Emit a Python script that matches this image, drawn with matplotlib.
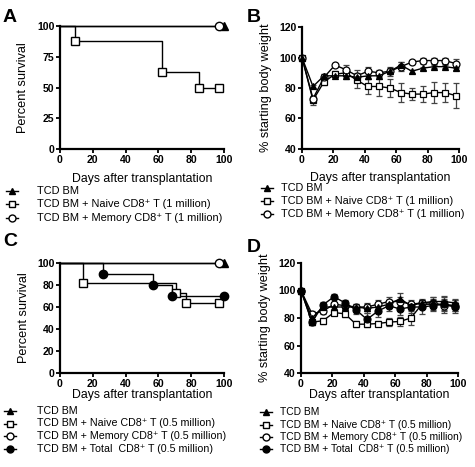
import matplotlib
matplotlib.use('Agg')
import matplotlib.pyplot as plt
from matplotlib.lines import Line2D

plt.rcParams['font.family'] = ['Liberation Sans', 'DejaVu Sans']

# ---- A: survival, 1 million ----
a_tcd_t = [0, 100]
a_tcd_v = [100, 100]
a_naive_t = [0, 9, 62, 85, 97]
a_naive_v = [100, 87.5, 62.5, 50, 50]
a_mem_t = [0, 97]
a_mem_v = [100, 100]

# ---- B: body weight, 1 million ----
days = [0, 7, 14, 21, 28, 35, 42, 49, 56, 63, 70, 77, 84, 91, 98]
b_tcd = [100, 81, 88, 88, 88, 87, 88, 88, 91, 95, 91, 93, 94, 94, 93]
b_tcd_err = [0, 1, 1, 1, 2, 2, 2, 2, 2, 2, 1, 1, 1, 1, 1]
b_naive = [100, 72, 84, 89, 90, 85, 81, 81, 80, 77, 76, 76, 77, 77, 75]
b_naive_err = [0, 3, 2, 2, 3, 5, 5, 6, 6, 6, 4, 5, 7, 6, 8]
b_mem = [100, 73, 87, 95, 92, 88, 91, 90, 91, 94, 97, 98, 98, 98, 96]
b_mem_err = [0, 2, 2, 1, 3, 4, 3, 2, 3, 3, 1, 2, 2, 2, 3]

# ---- C: survival, 0.5 million ----
c_tcd_t = [0, 100]
c_tcd_v = [100, 100]
c_naive_t = [0, 14, 71, 77, 97]
c_naive_v = [100, 81.8, 72.7, 63.6, 63.6]
c_mem_t = [0, 97]
c_mem_v = [100, 100]
c_total_t = [0, 26, 57, 68, 100]
c_total_v = [100, 90, 80, 70, 70]

# ---- D: body weight, 0.5 million ----
d_tcd = [100, 80, 88, 88, 88, 88, 87, 88, 90, 94, 89, 91, 92, 92, 91]
d_tcd_err = [0, 2, 2, 2, 2, 2, 3, 2, 3, 4, 3, 2, 3, 3, 3]
d_naive = [100, 77, 78, 84, 83, 75.5, 75.5, 76, 77, 77.5, 80, 90, 90, 90, 89]
d_naive_err = [0, 2, 2, 2, 2, 2, 2, 2, 3, 3, 5, 3, 4, 4, 4]
d_mem = [100, 83, 85, 90, 89, 88, 88, 90, 92, 92, 90, 91, 91, 89, 89]
d_mem_err = [0, 2, 2, 2, 2, 2, 3, 3, 3, 3, 3, 3, 4, 4, 4]
d_total = [100, 77, 89.5, 95.5, 91, 86, 79, 85, 89, 86.5, 88, 88, 89, 90, 88]
d_total_err = [0, 2, 2, 2, 2, 3, 5, 4, 4, 4, 4, 5, 4, 6, 4]

cd8 = 'CD8\u207a'
leg_a = ['TCD BM', 'TCD BM + Naive %s T (1 million)' % cd8,
         'TCD BM + Memory %s T (1 million)' % cd8]
leg_c = ['TCD BM', 'TCD BM + Naive %s T (0.5 million)' % cd8,
         'TCD BM + Memory %s T (0.5 million)' % cd8,
         'TCD BM + Total  %s T (0.5 million)' % cd8]

fig = plt.figure(figsize=(4.75, 4.67), dpi=100)
W, H = 475.0, 467.0


def px_axes(l, t, r, b):
    return fig.add_axes([l / W, 1 - b / H, (r - l) / W, (b - t) / H])


def style(ax, ylim, yticks, ylabel, lpad):
    ax.set_xlim(0, 100)
    ax.set_ylim(*ylim)
    ax.set_xticks([0, 20, 40, 60, 80, 100])
    ax.set_yticks(yticks)
    for s in ['top', 'right']:
        ax.spines[s].set_visible(False)
    for s in ['left', 'bottom']:
        ax.spines[s].set_linewidth(1.6)
    ax.tick_params(width=1.3, length=3, labelsize=7.6, pad=1)
    for lab in ax.get_xticklabels() + ax.get_yticklabels():
        lab.set_fontweight('bold')
    ax.set_ylabel(ylabel, fontsize=9.2, labelpad=lpad)


def kaplan(ax, t, v, marker, fc, ms=6):
    ax.step(t, v, where='post', color='black', lw=1, clip_on=False)
    ax.plot(t[1:], v[1:], ls='none', marker=marker, mfc=fc, mec='black',
            ms=ms, mew=1, clip_on=False, zorder=5)


def weight(ax, y, err, marker, fc, ms=5):
    ax.errorbar(days, y, yerr=err, color='black', ecolor='#444444', lw=1,
                elinewidth=0.9, capsize=2.5, capthick=0.9, marker=marker,
                mfc=fc, mec='black', ms=ms, mew=0.9, clip_on=False)


def legend(x_marker, x_text, ys, labels, markers, fs):
    for y, lab, (m, fc) in zip(ys, labels, markers):
        fig.add_artist(Line2D([(x_marker - 6) / W, (x_marker + 6) / W],
                              [1 - y / H, 1 - y / H], color='black', lw=1))
        fig.add_artist(Line2D([x_marker / W], [1 - y / H], ls='none',
                              marker=m, mfc=fc, mec='black', ms=5, mew=1))
        fig.text(x_text / W, 1 - y / H, lab, fontsize=fs, va='center', ha='left')


mk = [('^', 'black'), ('s', 'white'), ('o', 'white'), ('o', 'black')]

# A
axA = px_axes(60, 26, 224, 149)
kaplan(axA, a_tcd_t, a_tcd_v, '^', 'black')
kaplan(axA, a_naive_t, a_naive_v, 's', 'white')
kaplan(axA, a_mem_t, a_mem_v, 'o', 'white')
style(axA, (0, 100), [0, 25, 50, 75, 100], 'Percent survival', 6)
axA.set_xlabel('Days after transplantation', fontsize=8.8, labelpad=6)
legend(12, 37, [191, 204, 218], leg_a, mk[:3], 7.9)

# B
axB = px_axes(302, 27, 459, 149)
weight(axB, b_naive, b_naive_err, 's', 'white')
weight(axB, b_mem, b_mem_err, 'o', 'white')
weight(axB, b_tcd, b_tcd_err, '^', 'black')
style(axB, (40, 120), [40, 60, 80, 100, 120], '% starting body weight', 5)
axB.set_xlabel('Days after transplantation', fontsize=8.8, labelpad=5)
legend(267, 281, [188, 201, 214], leg_a, mk[:3], 7.8)

# C
axC = px_axes(60, 263, 224, 373)
kaplan(axC, c_tcd_t, c_tcd_v, '^', 'black')
kaplan(axC, c_naive_t, c_naive_v, 's', 'white')
kaplan(axC, c_mem_t, c_mem_v, 'o', 'white')
kaplan(axC, c_total_t, c_total_v, 'o', 'black')
style(axC, (0, 100), [0, 20, 40, 60, 80, 100], 'Percent survival', 5)
axC.set_xlabel('Days after transplantation', fontsize=8.8, labelpad=0)
legend(10, 37, [411, 423.5, 436, 448.5], leg_c, mk, 7.7)

# D
axD = px_axes(301, 263, 458, 373)
weight(axD, d_naive, d_naive_err, 's', 'white')
weight(axD, d_mem, d_mem_err, 'o', 'white')
weight(axD, d_tcd, d_tcd_err, '^', 'black')
weight(axD, d_total, d_total_err, 'o', 'black')
style(axD, (40, 120), [40, 60, 80, 100, 120], '% starting body weight', 5)
axD.set_xlabel('Days after transplantation', fontsize=8.8, labelpad=0)
legend(266, 280, [412, 424.5, 437, 449], leg_c, mk, 7.4)

# panel letters
for x, y, s in [(3, 18, 'A'), (247, 18, 'B'), (3, 242, 'C'), (247, 247, 'D')]:
    fig.text(x / W, 1 - y / H, s, fontsize=14, fontweight='bold',
             va='center', ha='left')

fig.savefig('out.png', dpi=100)
